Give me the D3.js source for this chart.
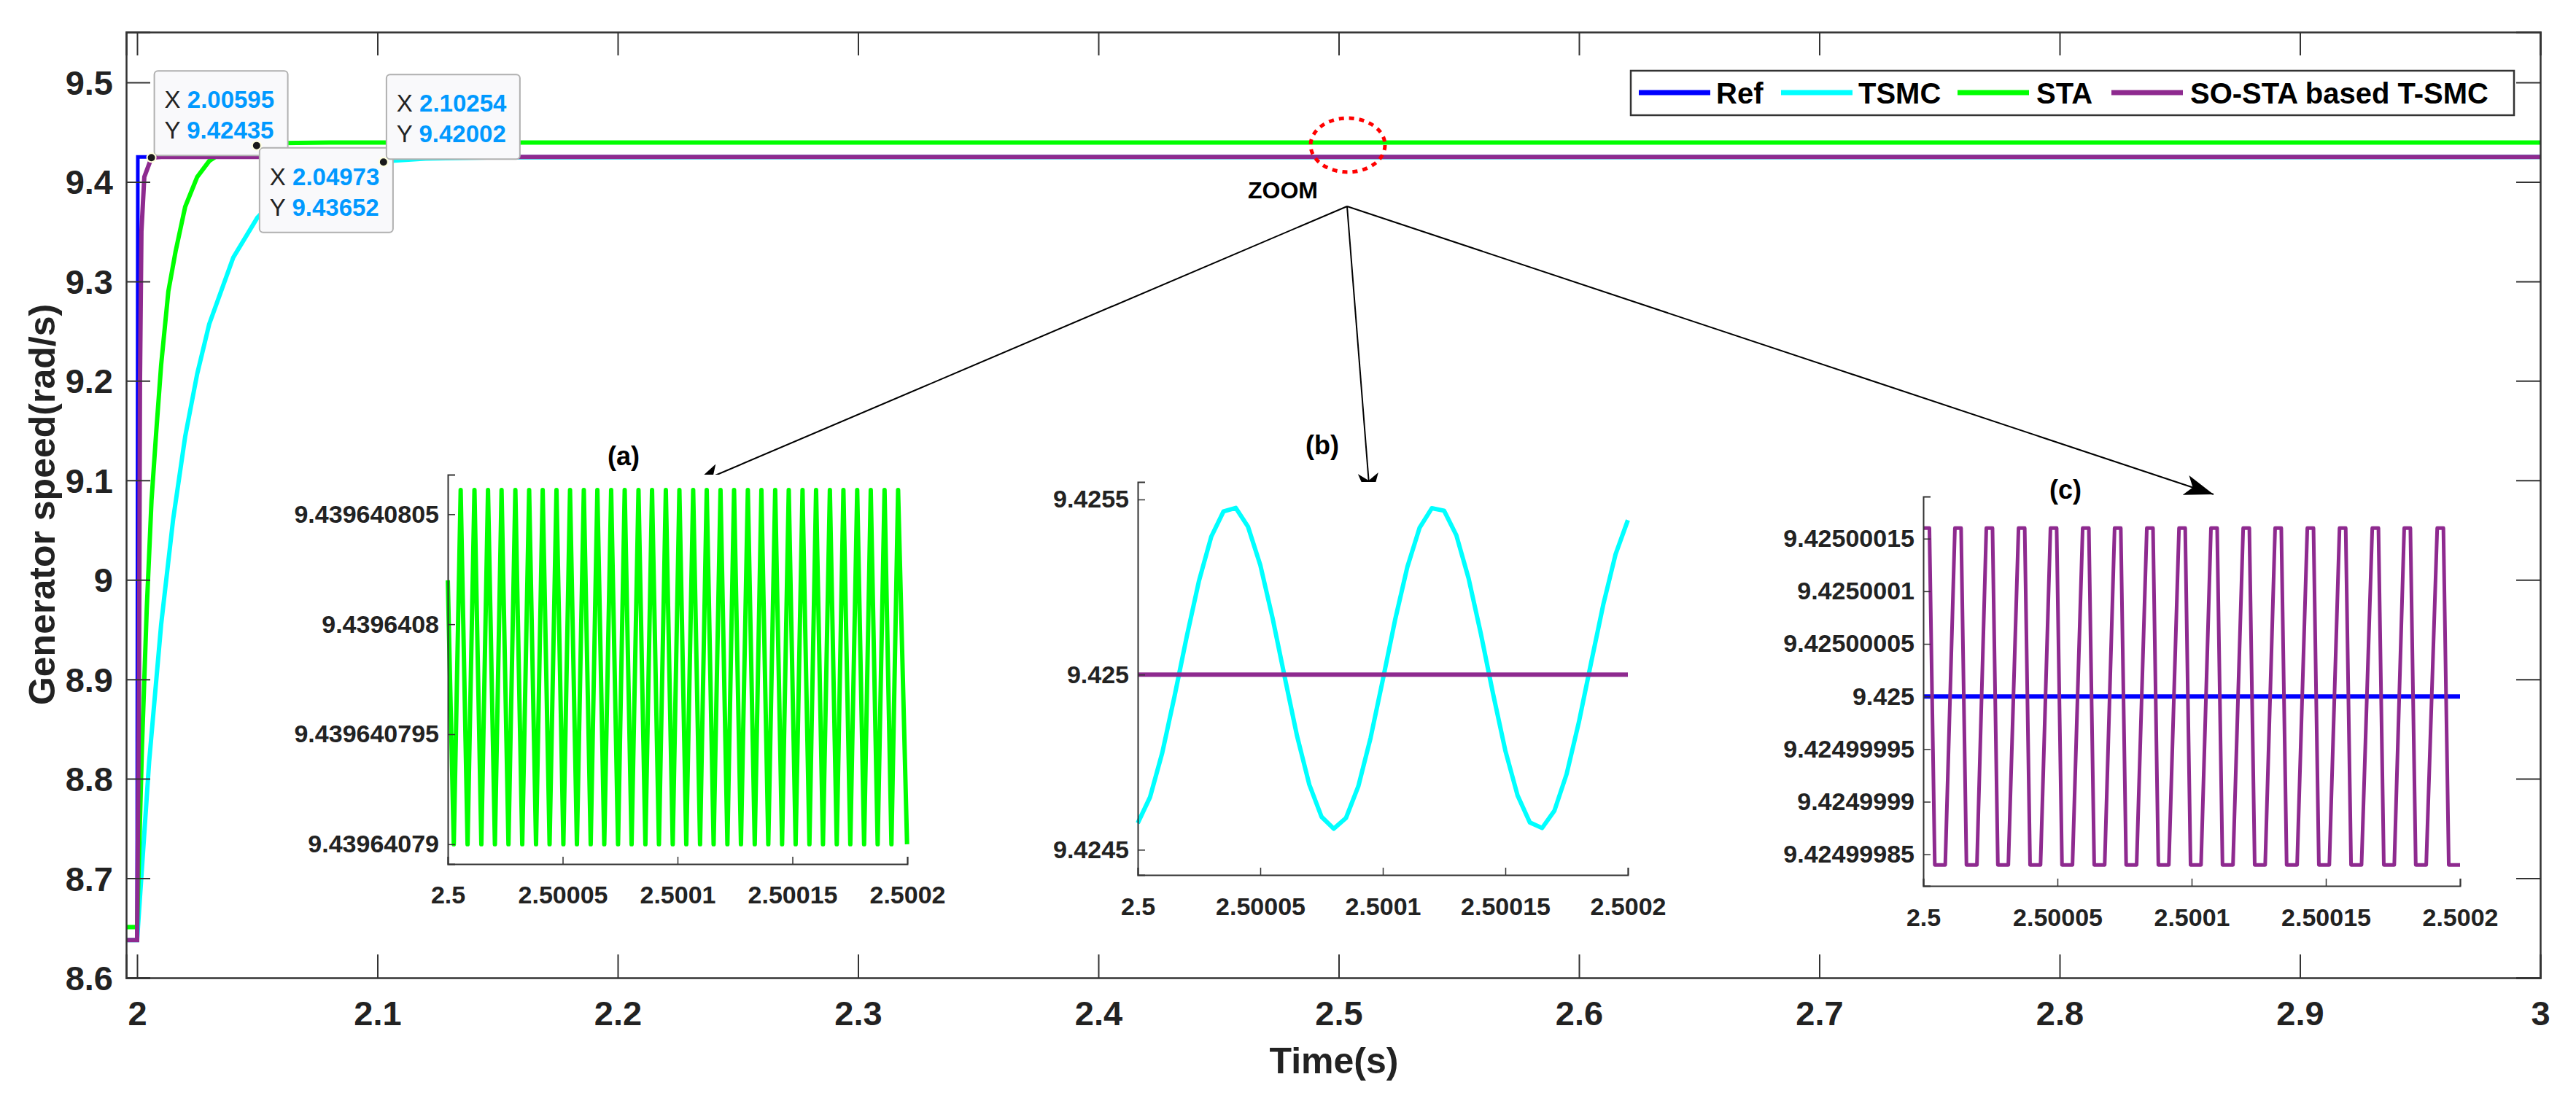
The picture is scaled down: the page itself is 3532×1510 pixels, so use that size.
<!DOCTYPE html>
<html><head><meta charset="utf-8">
<script src="https://cdn.jsdelivr.net/npm/d3@7"></script>
<style>body{margin:0;background:#fff}text{font-family:"Liberation Sans",Arial,sans-serif}</style>
</head><body><svg id="c" width="3532" height="1510"></svg>
<script>
// ---------- DATA ----------
const seriesNames = ["Ref","TSMC","STA","SO-STA based T-SMC"];
const seriesColors = ["#0000ff","#00ffff","#00ff00","#8e2a8f"];
const xTicks = [2,2.1,2.2,2.3,2.4,2.5,2.6,2.7,2.8,2.9,3];
const yTicks = [8.6,8.7,8.8,8.9,9,9.1,9.2,9.3,9.4,9.5];
const refT = [1.99545,2.0,2.0003,3.0];
const refV = [8.638,8.638,9.425,9.425];
const tsmcT = [1.99545,2.0,2.005,2.01,2.015,2.02,2.025,2.03,2.04,2.05,2.06,2.07,2.08,2.1,2.12,2.15,3.0];
const tsmcV = [8.638,8.638,8.817,8.955,9.061,9.144,9.207,9.257,9.324,9.364,9.389,9.403,9.412,9.4204,9.4234,9.4248,9.425];
const staT = [1.99545,2.0,2.002,2.004,2.006,2.008,2.01,2.013,2.016,2.02,2.025,2.03,2.035,2.04,2.05,2.06,2.08,3.0];
const staV = [8.651,8.651,8.83,8.97,9.08,9.15,9.216,9.29,9.33,9.375,9.405,9.421,9.429,9.434,9.4375,9.439,9.4395,9.4396];
const soT = [1.99545,2.0,2.0008,2.0012,2.0018,2.003,2.006,2.01,3.0];
const soV = [8.638,8.638,8.9,9.2,9.35,9.405,9.4244,9.425,9.425];
const tips = [{x:2.00595,y:9.42435,dx:4,dy:-119},{x:2.04973,y:9.43652,dx:4,dy:3},{x:2.10254,y:9.42002,dx:4,dy:-120}];
// inset (a): STA, offsets in microseconds after 2.5 s
const aStartV = 9.439640802;
const aHigh = 9.4396408061, aLow = 9.43964079;
const aPeaks = [5.6,11.6,17.5,23.4,29.4,35.4,41.3,47.3,53.2,59.2,65.1,71.1,77.0,83.0,88.9,94.9,100.8,106.8,112.7,118.7,124.6,130.6,136.5,142.5,148.4,154.4,160.3,166.3,172.2,178.2,184.1,190.1,196.0];
const aTroughs = [2.6,8.6,14.6,20.5,26.4,32.4,38.4,44.3,50.3,56.2,62.2,68.1,74.1,80.0,86.0,91.9,97.9,103.8,109.8,115.7,121.7,127.6,133.6,139.5,145.5,151.4,157.4,163.3,169.3,175.2,181.2,187.1,193.1,199.9];
const aYTicks = [9.43964079,9.439640795,9.4396408,9.439640805];
const aYLabels = ["9.43964079","9.439640795","9.4396408","9.439640805"];
// inset (b): TSMC deviation from 9.425 in 1e-6 rad/s, every 5 us
const bT = [0,5,10,15,20,25,30,35,40,45,50,55,60,65,70,75,80,85,90,95,100,105,110,115,120,125,130,135,140,145,150,155,160,165,170,175,180,185,190,195,200];
const bDev = [-424,-350,-223,-62,109,268,394,466,476,422,313,162,-8,-175,-314,-406,-440,-409,-319,-181,-15,156,307,419,475,468,398,275,117,-55,-217,-345,-422,-438,-389,-284,-136,34,201,344,441];
const bSO = 9.425;
const bYTicks = [9.4245,9.425,9.4255];
const bYLabels = ["9.4245","9.425","9.4255"];
// inset (c): SO-STA, top plateau start times (us)
const cTopStarts = [0,11.8,23.5,35.5,47.4,59.4,71.3,83.3,95.3,107.2,119.2,131.1,143.1,155.1,167.3,179.2,191.5];
const cHigh = 9.42500016, cLow = 9.42499984, cRef = 9.425;
const cYTicks = [9.42499985,9.4249999,9.42499995,9.425,9.42500005,9.4250001,9.42500015];
const cYLabels = ["9.42499985","9.4249999","9.42499995","9.425","9.42500005","9.4250001","9.42500015"];
const insetXTicks = [2.5,2.50005,2.5001,2.50015,2.5002];
const insetXLabels = ["2.5","2.50005","2.5001","2.50015","2.5002"];

// ---------- DRAW ----------
const svg = d3.select("#c");
const L=173,R=3483,T=44,B=1341;
const x = d3.scaleLinear().domain([1.99545,3]).range([L,R]);
const y = d3.scaleLinear().domain([8.6,9.5506]).range([B,T]);
const zip=(a,b)=>a.map((v,i)=>[v,b[i]]);
const line = d3.line().x(d=>x(d[0])).y(d=>y(d[1]));
const mainData=[zip(refT,refV),zip(tsmcT,tsmcV),zip(staT,staV),zip(soT,soV)];
const clip = svg.append("clipPath").attr("id","mc").append("rect").attr("x",L).attr("y",T).attr("width",R-L).attr("height",B-T);
const g = svg.append("g").attr("clip-path","url(#mc)");
mainData.forEach((d,i)=>g.append("path").attr("d",line(d)).attr("fill","none").attr("stroke",seriesColors[i]).attr("stroke-width",i==0?5:6));

// axes (ticks inward, box)
const fmt = v=>String(+v.toFixed(1));
const ax = svg.append("g").attr("transform",`translate(0,${B})`).call(d3.axisBottom(x).tickValues(xTicks).tickSize(-32).tickPadding(0).tickFormat(fmt));
ax.selectAll("text").attr("dy",null).attr("y",65).style("font-size","47px").style("font-weight","bold").attr("fill","#222");
svg.append("g").attr("transform",`translate(0,${T})`).call(d3.axisTop(x).tickValues(xTicks).tickSize(-32).tickFormat(""));
const ay = svg.append("g").attr("transform",`translate(${L},0)`).call(d3.axisLeft(y).tickValues(yTicks).tickSize(-33).tickPadding(18).tickFormat(fmt));
ay.selectAll("text").style("font-size","47px").style("font-weight","bold").attr("fill","#222").attr("dy","0.35em");
svg.append("g").attr("transform",`translate(${R},0)`).call(d3.axisRight(y).tickValues(yTicks).tickSize(-33).tickFormat(""));
svg.selectAll(".domain").attr("stroke","#333").attr("stroke-width",2.5);
svg.selectAll(".tick line").attr("stroke","#333").attr("stroke-width",2);
svg.append("text").attr("x",1829).attr("y",1472).attr("text-anchor","middle").style("font-size","50px").style("font-weight","bold").attr("fill","#222").text("Time(s)");
svg.append("text").attr("transform",`translate(75,692) rotate(-90)`).attr("text-anchor","middle").style("font-size","50px").style("font-weight","bold").attr("fill","#222").text("Generator speed(rad/s)");

// legend
svg.append("rect").attr("x",2236).attr("y",97).attr("width",1211).attr("height",61).attr("fill","#fff").attr("stroke","#333").attr("stroke-width",2.5);
const legLine=[2247,2442,2684,2895], legText=[2353,2548,2792,3003];
seriesNames.forEach((n,i)=>{
  svg.append("line").attr("x1",legLine[i]).attr("x2",legLine[i]+98).attr("y1",127).attr("y2",127).attr("stroke",seriesColors[i]).attr("stroke-width",7);
  svg.append("text").attr("x",legText[i]).attr("y",142).style("font-size","40px").style("font-weight","bold").attr("fill","#000").attr("textLength",null).text(n);
});

// datatips
tips.forEach(t=>{
  const px=x(t.x), py=y(t.y);
  const bx=px+t.dx, by=py+t.dy;
  const gg=svg.append("g");
  gg.append("rect").attr("x",bx).attr("y",by).attr("width",183).attr("height",116).attr("rx",5).attr("fill","#f9f9fb").attr("stroke","#b0b0b0").attr("stroke-width",2);
  const t1=gg.append("text").attr("x",bx+14).attr("y",by+51).style("font-size","33px");
  t1.append("tspan").attr("fill","#222").text("X ");
  t1.append("tspan").attr("fill","#0099ff").style("font-weight","bold").text(t.x.toFixed(5));
  const t2=gg.append("text").attr("x",bx+14).attr("y",by+93).style("font-size","33px");
  t2.append("tspan").attr("fill","#222").text("Y ");
  t2.append("tspan").attr("fill","#0099ff").style("font-weight","bold").text(t.y.toFixed(5));
  svg.append("circle").attr("cx",px).attr("cy",py).attr("r",6).attr("fill","#1a1a1a").attr("stroke","#ffffdd").attr("stroke-width",2);
});

// zoom marker and arrows
svg.append("ellipse").attr("cx",1848).attr("cy",199).attr("rx",51).attr("ry",37).attr("fill","none").attr("stroke","#ff0000").attr("stroke-width",5).attr("stroke-dasharray","7,7");
svg.append("text").attr("x",1759).attr("y",272).attr("text-anchor","middle").style("font-size","32px").style("font-weight","bold").text("ZOOM");
const defs=svg.append("defs");
defs.append("marker").attr("id","ah").attr("viewBox","0 0 20 14").attr("refX",20).attr("refY",7).attr("markerWidth",20).attr("markerHeight",14).attr("markerUnits","userSpaceOnUse").attr("orient","auto")
  .append("path").attr("d","M0,0 L20,7 L0,14 L5,7 Z").attr("fill","#000");
defs.select("marker").attr("markerWidth",40).attr("markerHeight",28).attr("viewBox","0 0 20 14");
[[950,665],[1879,689],[3035,678]].forEach(p=>svg.append("line").attr("x1",1847).attr("y1",283).attr("x2",p[0]).attr("y2",p[1]).attr("stroke","#000").attr("stroke-width",2).attr("marker-end","url(#ah)"));

// insets
function inset(o){
  const xs=d3.scaleLinear().domain([2.5,2.5002]).range([o.l,o.r]);
  const ys=d3.scaleLinear().domain(o.yd).range([o.b,o.t]);
  const gi=svg.append("g");
  gi.append("rect").attr("x",o.l).attr("y",o.t).attr("width",o.r-o.l).attr("height",o.b-o.t).attr("fill","#fff");
  const cid="ic"+o.id;
  svg.append("clipPath").attr("id",cid).append("rect").attr("x",o.l-4).attr("y",o.t).attr("width",o.r-o.l+8).attr("height",o.b-o.t);
  const gl=gi.append("g").attr("clip-path",`url(#${cid})`);
  o.lines.forEach(s=>gl.append("path").attr("d",d3.line().x(d=>xs(d[0])).y(d=>ys(d[1]))(s.d)).attr("fill","none").attr("stroke",s.c).attr("stroke-width",s.w).attr("stroke-linejoin","round"));
  const xa=gi.append("g").attr("transform",`translate(0,${o.b})`).call(d3.axisBottom(xs).tickValues(insetXTicks).tickSize(-10).tickFormat((d,i)=>insetXLabels[i]));
  xa.selectAll("text").attr("dy",null).attr("y",o.xl).style("font-size","34px").style("font-weight","bold").attr("fill","#222");
  const ya=gi.append("g").attr("transform",`translate(${o.l},0)`).call(d3.axisLeft(ys).tickValues(o.yt).tickSize(-10).tickPadding(12).tickFormat((d,i)=>o.yl[i]));
  ya.selectAll("text").style("font-size","34px").style("font-weight","bold").attr("fill","#222");
  gi.selectAll(".domain").attr("stroke","#333").attr("stroke-width",2);
  gi.selectAll(".tick line").attr("stroke","#333").attr("stroke-width",1.5);
  svg.append("text").attr("x",o.tx).attr("y",o.ty).attr("text-anchor","middle").style("font-size","36px").style("font-weight","bold").text(o.title);
}
const us=v=>2.5+v*1e-6;
// (a)
const aPts=[[us(0),aStartV]];
aTroughs.forEach((t,i)=>{aPts.push([us(t),aLow]); if(i<aPeaks.length) aPts.push([us(aPeaks[i]),aHigh]);});
inset({id:"a",l:614,r:1244,t:651,b:1185,yd:[9.4396407891,9.4396408068],yt:aYTicks,yl:aYLabels,xl:54,tx:855,ty:638,title:"(a)",
  lines:[{d:aPts,c:seriesColors[2],w:6}]});
// (b)
const bPts=bT.map((t,i)=>[us(t),9.425+bDev[i]*1e-6]);
inset({id:"b",l:1560,r:2232,t:661,b:1200,yd:[9.424428,9.42555],yt:bYTicks,yl:bYLabels,xl:55,tx:1813,ty:623,title:"(b)",
  lines:[{d:bPts,c:seriesColors[1],w:6},{d:[[2.5,bSO],[2.5002,bSO]],c:seriesColors[3],w:6}]});
// (c)
const cPts=[];
cTopStarts.forEach(s=>{cPts.push([us(s),cHigh]);cPts.push([us(s+2.3),cHigh]);cPts.push([us(s+4.3),cLow]);cPts.push([us(s+8.2),cLow]);});
cPts.length=cPts.length-1; cPts.push([us(200),cLow]);
inset({id:"c",l:2637,r:3373,t:681,b:1215,yd:[9.42499982,9.42500019],yt:cYTicks,yl:cYLabels,xl:55,tx:2832,ty:684,title:"(c)",
  lines:[{d:[[2.5,cRef],[2.5002,cRef]],c:seriesColors[0],w:6},{d:cPts,c:seriesColors[3],w:5}]});
</script></body></html>
